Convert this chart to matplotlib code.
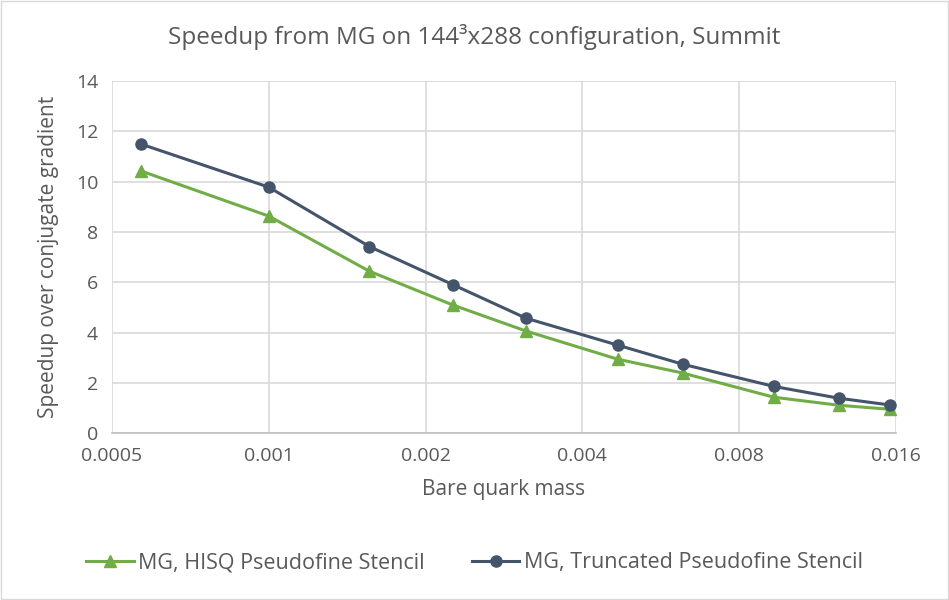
import numpy as np
import matplotlib.pyplot as plt
from matplotlib.patches import Rectangle

mass = [0.000569, 0.001, 0.00156, 0.00226, 0.00312, 0.00468, 0.00624, 0.00933, 0.01244, 0.0156]
hisq = [10.42, 8.63, 6.44, 5.09, 4.06, 2.94, 2.39, 1.43, 1.11, 0.95]
trunc = [11.49, 9.78, 7.42, 5.9, 4.57, 3.5, 2.74, 1.86, 1.39, 1.12]
xticks = [0.0005, 0.001, 0.002, 0.004, 0.008, 0.016]
xlabels = ['0.0005', '0.001', '0.002', '0.004', '0.008', '0.016']

plt.rcParams['font.family'] = ['Open Sans', 'DejaVu Sans']
txt = '#595959'

fig = plt.figure(figsize=(9.49, 6.0), dpi=100)
ax = fig.add_axes([0.118, 0.278, 0.826, 0.587])
fig.patches.append(Rectangle((0.001, 0.001), 0.998, 0.997, transform=fig.transFigure,
                             fill=False, edgecolor='#D9D9D9', linewidth=1))

ax.plot(mass, hisq, color='#70AD47', lw=2.2, marker='^', ms=8, label='MG, HISQ Pseudofine Stencil')
ax.plot(mass, trunc, color='#44546A', lw=2.2, marker='o', ms=8, label='MG, Truncated Pseudofine Stencil')

ax.set_xscale('log', base=2)
ax.set_xlim(0.0005, 0.016)
ax.set_ylim(0, 14)
ax.set_xticks(xticks)
ax.set_xticklabels(xlabels)
ax.minorticks_off()
ax.set_yticks(range(0, 15, 2))
ax.grid(True, color='#D9D9D9', lw=1.2)
ax.set_axisbelow(True)
for s in ['top', 'right', 'left']:
    ax.spines[s].set_visible(False)
ax.spines['bottom'].set_color('#BFBFBF')
ax.spines['bottom'].set_linewidth(1.2)
ax.tick_params(length=0, labelsize=14, colors=txt, pad=10)

ax.set_xlabel('Bare quark mass', fontsize=15, color=txt, labelpad=10)
ax.set_ylabel('Speedup over conjugate gradient', fontsize=15, color=txt, labelpad=12)
fig.text(0.5, 0.938, 'Speedup from MG on 144³x288 configuration, Summit', fontsize=17.5,
         color=txt, ha='center', va='center')

leg = fig.legend(*ax.get_legend_handles_labels(), loc='center', bbox_to_anchor=(0.5, 0.062),
                 ncol=2, frameon=False, fontsize=15.5, handlelength=2.2, columnspacing=2.2,
                 handletextpad=0.2)
for t in leg.get_texts():
    t.set_color(txt)

fig.savefig('out.png', dpi=100)
